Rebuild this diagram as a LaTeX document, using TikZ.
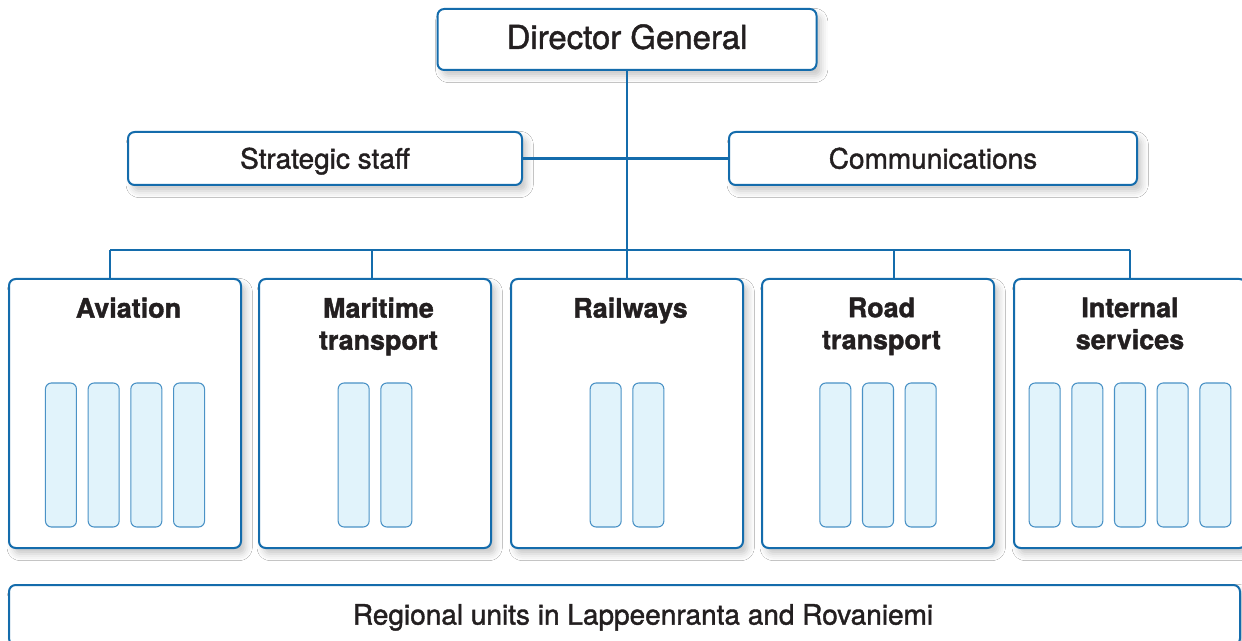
\documentclass[tikz,border=0pt]{standalone}
\usepackage{fontspec}
\setmainfont[FakeBold=1.4]{TeX Gyre Heros}
\usetikzlibrary{positioning,shadows,shadows.blur}
\definecolor{LineBlue}{RGB}{20,108,172}
\definecolor{BarBlue}{RGB}{74,146,198}
\definecolor{BarFill}{RGB}{225,243,251}
\definecolor{TextGrey}{RGB}{35,31,32}
\newcommand{\pxu}{0.75pt}
\tikzstyle{OrgBox}=[draw=LineBlue, line width=1.5pt, rounded corners=5pt, fill=white, inner sep=0pt, text=TextGrey,
  blur shadow={shadow xshift=3.5pt, shadow yshift=-4.5pt, shadow blur radius=5pt, shadow opacity=22}]
\tikzstyle{TopBox}=[OrgBox, minimum height=61*\pxu, text height=17.8pt, text depth=3.75pt, font=\fontsize{24.7}{30}\selectfont]
\tikzstyle{StaffBox}=[OrgBox, minimum height=53*\pxu, text height=15.1pt, text depth=0pt, font=\fontsize{21}{25}\selectfont]
\tikzstyle{DivBox}=[OrgBox, minimum width=232*\pxu, minimum height=269*\pxu]
\tikzstyle{DivLabel}=[inner sep=0pt, align=center, text=TextGrey, xshift=2.6pt, font=\fontsize{20.2}{24}\selectfont\bfseries]
\tikzstyle{SubBar}=[draw=BarBlue, line width=0.8pt, fill=BarFill, rounded corners=4.5pt, minimum width=31*\pxu, minimum height=144*\pxu, inner sep=0pt]
\tikzstyle{Link}=[draw=LineBlue, line width=1.7pt]

\begin{document}
\begin{tikzpicture}[x=\pxu, y=-\pxu]
      \clip (0,0) rectangle (1242,641);
      \fill[white] (0,0) rectangle (1242,641);
      % top
      \node[TopBox, minimum width=379*\pxu] (dg) at (627,39.5) {Director General};
      \node[StaffBox, minimum width=394*\pxu] (ss) at (325,158.5) {Strategic staff};
      \node[StaffBox, minimum width=408*\pxu] (com) at (933,158.5) {Communications};
      % divisions
      \node[DivBox] (avi) at (125,413.5) {};
      \node[DivBox] (mar) at (375,413.5) {};
      \node[DivBox] (rail) at (627,413.5) {};
      \node[DivBox] (road) at (878,413.5) {};
      \node[DivBox] (int) at (1130,413.5) {};
      \node[DivLabel, below=14.5pt of avi.north] (avi-t) {Aviation};
      \node[DivLabel, below=14.5pt of mar.north] (mar-t) {Maritime\\transport};
      \node[DivLabel, below=14.5pt of rail.north] (rail-t) {Railways};
      \node[DivLabel, below=14.5pt of road.north] (road-t) {Road\\transport};
      \node[DivLabel, below=14.5pt of int.north, xshift=-2.6pt] (int-t) {Internal\\services};
      \foreach \i in {1,...,4} \node[SubBar] (avi-\i) at ({125+(\i-2.5)*42.7},455) {};
      \foreach \i in {1,2} \node[SubBar] (mar-\i) at ({375+(\i-1.5)*42.7},455) {};
      \foreach \i in {1,2} \node[SubBar] (rail-\i) at ({627+(\i-1.5)*42.7},455) {};
      \foreach \i in {1,...,3} \node[SubBar] (road-\i) at ({878+(\i-2)*42.7},455) {};
      \foreach \i in {1,...,5} \node[SubBar] (int-\i) at ({1130+(\i-3)*42.7},455) {};
      % regional units
      \node[OrgBox, minimum width=1231*\pxu, minimum height=60*\pxu] (reg) at (624.5,615) {};
      \node[inner sep=0pt, text=TextGrey, text height=15.1pt, text depth=0pt, font=\fontsize{21}{25}\selectfont] (reg-t) at (643,614.5) {Regional units in Lappeenranta and Rovaniemi};
      % connectors
      \coordinate (bus) at (627,250);
      \coordinate (d1) at (110,250);
      \coordinate (d2) at (372,250);
      \coordinate (d4) at (894,250);
      \coordinate (d5) at (1130,250);
      \draw[Link] (dg.south) -- (bus);
      \draw[Link] (ss.east) -- (ss.east -| dg.south);
      \draw[Link] (com.west) -- (com.west -| dg.south);
      \draw[Link] (d1) -- (d5);
      \draw[Link] (d1) -- (d1 |- avi.north);
      \draw[Link] (d2) -- (d2 |- mar.north);
      \draw[Link] (bus) -- (rail.north);
      \draw[Link] (d4) -- (d4 |- road.north);
      \draw[Link] (d5) -- (d5 |- int.north);
    \end{tikzpicture}
\end{document}
